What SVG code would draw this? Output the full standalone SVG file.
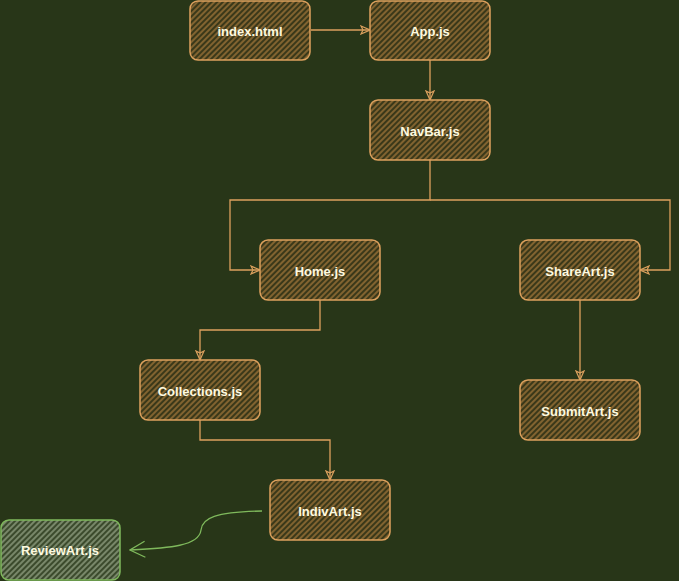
<svg xmlns="http://www.w3.org/2000/svg" width="679" height="581" viewBox="0 0 679 581">
<defs>
<pattern id="hO" patternUnits="userSpaceOnUse" width="4" height="4" patternTransform="rotate(-45)">
<rect width="4" height="4" fill="#3a3819"/>
<line x1="0" y1="1" x2="4" y2="1" stroke="#a87a3c" stroke-width="1.3"/>
</pattern>
<pattern id="hG" patternUnits="userSpaceOnUse" width="4" height="4" patternTransform="rotate(-45)">
<rect width="4" height="4" fill="#3b4a2c"/>
<line x1="0" y1="1" x2="4" y2="1" stroke="#9aa98a" stroke-width="1.3"/>
</pattern>
<marker id="ao" viewBox="0 0 10 10" refX="10" refY="5" markerWidth="10" markerHeight="10" markerUnits="userSpaceOnUse" orient="auto">
<path d="M1,1 L10,5 L1,9 L3,5 Z" fill="none" stroke="#dda15e" stroke-width="1.2"/>
</marker>
<marker id="ag" viewBox="0 0 20 20" refX="19" refY="10" markerWidth="20" markerHeight="20" markerUnits="userSpaceOnUse" orient="auto">
<path d="M4,2 L19,10 L4,18" fill="none" stroke="#7fb95c" stroke-width="1.3"/>
</marker>
<style>
.n rect{fill:url(#hO);stroke:#dda15e;stroke-width:1.5}
.g rect{fill:url(#hG);stroke:#7fb95c;stroke-width:1.5}
text{font-family:"Liberation Sans",Arial,sans-serif;font-weight:bold;font-size:13px;fill:#fefae0;text-anchor:middle;dominant-baseline:central}
.c path{fill:none;stroke:#dda15e;stroke-width:1.3}
</style>
</defs>
<rect width="679" height="581" fill="#283618"/>
<g class="c" id="connectors">
<path d="M311,30 L370,30" marker-end="url(#ao)"/>
<path d="M430,60 L430,100" marker-end="url(#ao)"/>
<path d="M430,160 L430,200 L230,200 L230,270 L260,270" marker-end="url(#ao)"/>
<path d="M430,200 L670,200 L670,270 L640,270" marker-end="url(#ao)"/>
<path d="M320,300 L320,330 L200,330 L200,360" marker-end="url(#ao)"/>
<path d="M200,420 L200,440 L330,440 L330,480" marker-end="url(#ao)"/>
<path d="M580,300 L580,380" marker-end="url(#ao)"/>
<path d="M262,511 C215,512 202,518 201,530 C199,546 170,548 130,550" style="stroke:#7fb95c" marker-end="url(#ag)"/>
</g>
<g id="index" class="n"><rect x="190" y="1" width="120" height="59" rx="8"/><text x="250" y="31">index.html</text></g>
<g id="app" class="n"><rect x="370" y="1" width="120" height="59" rx="8"/><text x="430" y="31">App.js</text></g>
<g id="navbar" class="n"><rect x="370" y="100" width="120" height="60" rx="8"/><text x="430" y="131">NavBar.js</text></g>
<g id="home" class="n"><rect x="260" y="240" width="120" height="60" rx="8"/><text x="320" y="271">Home.js</text></g>
<g id="shareart" class="n"><rect x="520" y="240" width="120" height="60" rx="8"/><text x="580" y="271">ShareArt.js</text></g>
<g id="collections" class="n"><rect x="140" y="360" width="120" height="60" rx="8"/><text x="200" y="391">Collections.js</text></g>
<g id="submitart" class="n"><rect x="520" y="380" width="120" height="60" rx="8"/><text x="580" y="411">SubmitArt.js</text></g>
<g id="indivart" class="n"><rect x="270" y="480" width="120" height="60" rx="8"/><text x="330" y="511">IndivArt.js</text></g>
<g id="reviewart" class="g"><rect x="1" y="520" width="119" height="60" rx="8"/><text x="60" y="550">ReviewArt.js</text></g>
</svg>
